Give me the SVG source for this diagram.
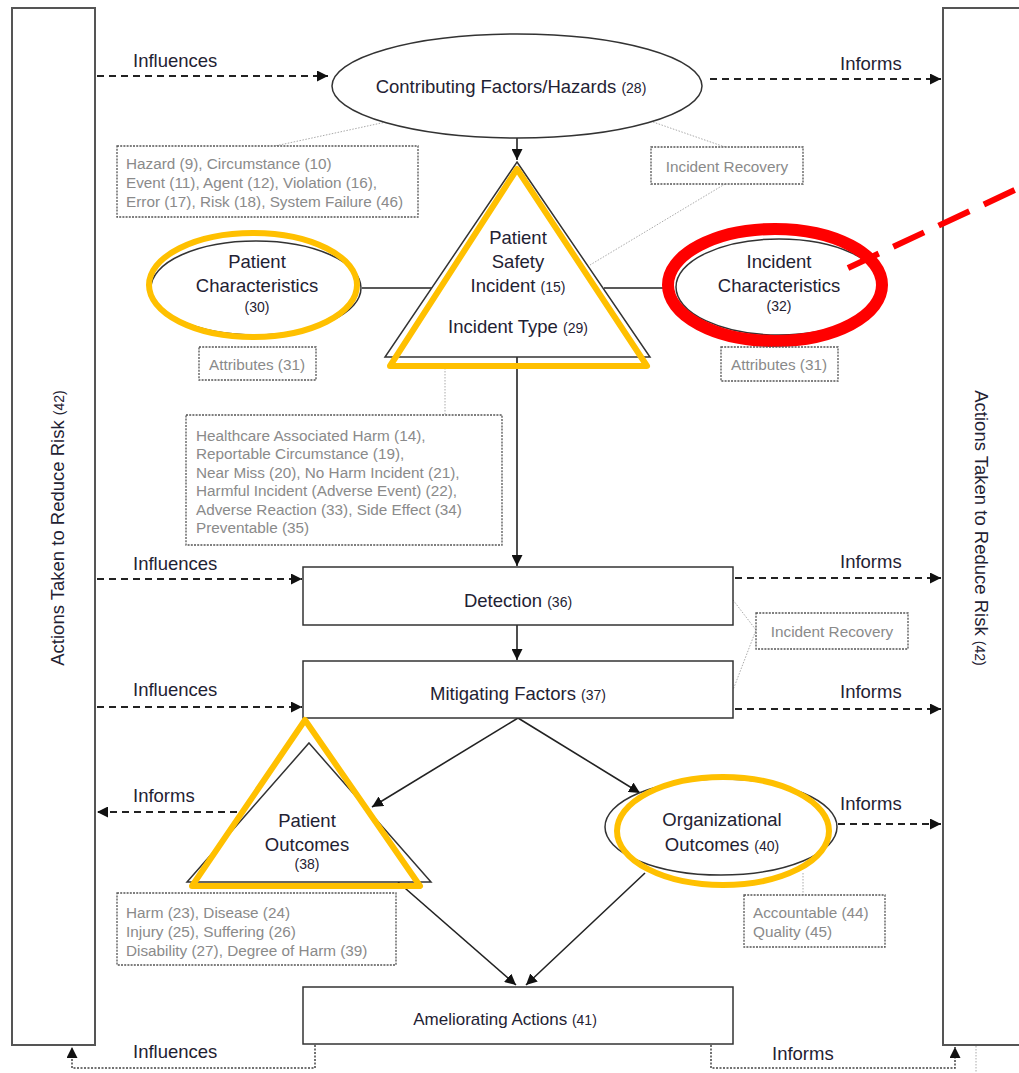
<svg xmlns="http://www.w3.org/2000/svg" width="1019" height="1073" viewBox="0 0 1019 1073">
<style>
.bg{fill:#fff}
.box{fill:#fff;stroke:#333;stroke-width:1.5}
.bar{fill:#fff;stroke:#555;stroke-width:2}
.t{font-family:"Liberation Sans",Arial,sans-serif;font-size:18.5px;fill:#1f2233}
.s{font-size:14px}
.lbl{font-family:"Liberation Sans",Arial,sans-serif;font-size:18.5px;fill:#1f2233}
.g{font-family:"Liberation Sans",Arial,sans-serif;font-size:15.3px;fill:#8a8a8a}
.gbox{fill:#fff;stroke:#555;stroke-width:1.3;stroke-dasharray:2,1.2}
.gline{fill:none;stroke:#aaa;stroke-width:1;stroke-dasharray:1.5,1.5}
.dash{fill:none;stroke:#222;stroke-width:2;stroke-dasharray:7,5}
.dot{fill:none;stroke:#444;stroke-width:1.5;stroke-dasharray:2,1.5}
.solid{fill:none;stroke:#222;stroke-width:1.6}
.yel{fill:none;stroke:#FFC000;stroke-width:6;stroke-linejoin:round}
</style>
<defs>
<marker id="ah" viewBox="0 0 10 10" refX="10" refY="5" markerWidth="11" markerHeight="11" markerUnits="userSpaceOnUse" orient="auto">
<path d="M0,0 L10,5 L0,10 z" fill="#111"/>
</marker>
</defs>
<rect class="bg" width="1019" height="1073"/>

<g id="left-bar">
<rect class="bar" x="12" y="8" width="83" height="1037"/>
<text class="t" transform="translate(64,528) rotate(-90)" text-anchor="middle">Actions Taken to Reduce Risk <tspan class="s">(42)</tspan></text>
</g>
<g id="right-bar">
<rect class="bar" x="943" y="8" width="90" height="1037"/>
<text class="t" transform="translate(975,528) rotate(90)" text-anchor="middle">Actions Taken to Reduce Risk <tspan class="s">(42)</tspan></text>
</g>

<g id="connectors">
<path class="gline" d="M386,122 L275,146"/>
<path class="gline" d="M653,122 L725,147"/>
<path class="gline" d="M725,184 L590,265"/>
<path class="gline" d="M445,368 L445,415"/>
<path class="gline" d="M733,600 L756,630 L733,690"/>
<path class="gline" d="M803,873 L803,895"/>
<path class="solid" d="M517,138 L517,160" marker-end="url(#ah)"/>
<path class="solid" d="M362,288 L432,288"/>
<path class="solid" d="M604,288 L664,288"/>
<path class="solid" d="M517,357 L517,566" marker-end="url(#ah)"/>
<path class="solid" d="M517,625 L517,660" marker-end="url(#ah)"/>
<path class="solid" d="M518,718 L372,807" marker-end="url(#ah)"/>
<path class="solid" d="M518,718 L640,793" marker-end="url(#ah)"/>
<path class="solid" d="M398,882 L516,985" marker-end="url(#ah)"/>
<path class="solid" d="M645,873 L526,985" marker-end="url(#ah)"/>
<path class="dash" d="M97,76 L328,76" marker-end="url(#ah)"/>
<path class="dash" d="M710,79 L941,79" marker-end="url(#ah)"/>
<path class="dash" d="M97,579 L302,579" marker-end="url(#ah)"/>
<path class="dash" d="M735,578 L941,578" marker-end="url(#ah)"/>
<path class="dash" d="M97,707 L302,707" marker-end="url(#ah)"/>
<path class="dash" d="M735,709 L941,709" marker-end="url(#ah)"/>
<path class="dash" d="M237,812 L97,812" marker-end="url(#ah)"/>
<path class="dash" d="M838,824 L941,824" marker-end="url(#ah)"/>
<path class="dot" d="M315,1045 L315,1068 L72,1068 L72,1047" marker-end="url(#ah)"/>
<path class="dot" d="M711,1045 L711,1068 L955,1068 L955,1047" marker-end="url(#ah)"/>
<path class="gline" d="M976,1046 L976,1073"/>
<text class="lbl" x="133" y="67">Influences</text>
<text class="lbl" x="840" y="70">Informs</text>
<text class="lbl" x="133" y="570">Influences</text>
<text class="lbl" x="840" y="568">Informs</text>
<text class="lbl" x="133" y="696">Influences</text>
<text class="lbl" x="840" y="698">Informs</text>
<text class="lbl" x="133" y="802">Informs</text>
<text class="lbl" x="840" y="810">Informs</text>
<text class="lbl" x="133" y="1058">Influences</text>
<text class="lbl" x="772" y="1060">Informs</text>
</g>

<g id="contributing-factors">
<ellipse class="box" cx="517" cy="86" rx="185" ry="52"/>
<text class="t" x="511" y="93" text-anchor="middle">Contributing Factors/Hazards <tspan class="s">(28)</tspan></text>
</g>

<g id="hazard-list">
<rect class="gbox" x="117" y="146" width="301" height="71"/>
<text class="g" x="126" y="169">Hazard (9), Circumstance (10)</text>
<text class="g" x="126" y="188">Event (11), Agent (12), Violation (16),</text>
<text class="g" x="126" y="207">Error (17), Risk (18), System Failure (46)</text>
</g>

<g id="incident-recovery-1">
<rect class="gbox" x="651" y="147" width="152" height="37"/>
<text class="g" x="727" y="172" text-anchor="middle">Incident Recovery</text>
</g>

<g id="patient-safety-incident">
<path class="box" d="M517,162 L650,357 L385,357 Z"/>
<path class="yel" d="M517,169 L647,366 L390,366 Z"/>
<text class="t" x="518" y="244" text-anchor="middle">Patient</text>
<text class="t" x="518" y="268" text-anchor="middle">Safety</text>
<text class="t" x="518" y="292" text-anchor="middle">Incident <tspan class="s">(15)</tspan></text>
<text class="t" x="518" y="333" text-anchor="middle">Incident Type <tspan class="s">(29)</tspan></text>
</g>

<g id="patient-characteristics">
<ellipse class="box" cx="256" cy="288" rx="105" ry="47"/>
<ellipse class="yel" cx="253" cy="285" rx="104" ry="52"/>
<text class="t" x="257" y="268" text-anchor="middle">Patient</text>
<text class="t" x="257" y="292" text-anchor="middle">Characteristics</text>
<text class="t s" x="257" y="312" text-anchor="middle">(30)</text>
</g>

<g id="attributes-1">
<rect class="gbox" x="199" y="347" width="117" height="33"/>
<text class="g" x="257" y="370" text-anchor="middle">Attributes (31)</text>
</g>

<g id="incident-characteristics">
<ellipse class="box" cx="779" cy="287" rx="103" ry="48"/>
<ellipse cx="775" cy="285" rx="107" ry="56" fill="none" stroke="#FF0000" stroke-width="12"/>
<text class="t" x="779" y="268" text-anchor="middle">Incident</text>
<text class="t" x="779" y="292" text-anchor="middle">Characteristics</text>
<text class="t s" x="779" y="311" text-anchor="middle">(32)</text>
</g>

<g id="attributes-2">
<rect class="gbox" x="721" y="347" width="117" height="34"/>
<text class="g" x="779" y="370" text-anchor="middle">Attributes (31)</text>
</g>

<g id="red-pointer">
<path d="M848,268 L1019,188" fill="none" stroke="#FF0000" stroke-width="6" stroke-dasharray="34,16"/>
</g>

<g id="incident-type-list">
<rect class="gbox" x="186" y="415" width="316" height="130"/>
<text class="g" x="196" y="441">Healthcare Associated Harm (14),</text>
<text class="g" x="196" y="459">Reportable Circumstance (19),</text>
<text class="g" x="196" y="478">Near Miss (20), No Harm Incident (21),</text>
<text class="g" x="196" y="496">Harmful Incident (Adverse Event) (22),</text>
<text class="g" x="196" y="515">Adverse Reaction (33), Side Effect (34)</text>
<text class="g" x="196" y="533">Preventable (35)</text>
</g>

<g id="detection">
<rect class="box" x="303" y="567" width="430" height="58"/>
<text class="t" x="518" y="607" text-anchor="middle">Detection <tspan class="s">(36)</tspan></text>
</g>

<g id="incident-recovery-2">
<rect class="gbox" x="756" y="613" width="152" height="36"/>
<text class="g" x="832" y="637" text-anchor="middle">Incident Recovery</text>
</g>

<g id="mitigating-factors">
<rect class="box" x="303" y="661" width="430" height="57"/>
<text class="t" x="518" y="700" text-anchor="middle">Mitigating Factors <tspan class="s">(37)</tspan></text>
</g>

<g id="patient-outcomes">
<path class="box" d="M309,743 L431,882 L187,882 Z"/>
<path class="yel" d="M305,720 L420,886 L192,886 Z"/>
<text class="t" x="307" y="827" text-anchor="middle">Patient</text>
<text class="t" x="307" y="851" text-anchor="middle">Outcomes</text>
<text class="t s" x="307" y="869" text-anchor="middle">(38)</text>
</g>

<g id="outcome-list">
<rect class="gbox" x="117" y="893" width="279" height="72"/>
<text class="g" x="126" y="918">Harm (23), Disease (24)</text>
<text class="g" x="126" y="937">Injury (25), Suffering (26)</text>
<text class="g" x="126" y="956">Disability (27), Degree of Harm (39)</text>
</g>

<g id="organizational-outcomes">
<ellipse class="box" cx="721" cy="827" rx="116" ry="48"/>
<ellipse class="yel" cx="723" cy="831" rx="106" ry="54" stroke-width="7"/>
<text class="t" x="722" y="826" text-anchor="middle">Organizational</text>
<text class="t" x="722" y="851" text-anchor="middle">Outcomes <tspan class="s">(40)</tspan></text>
</g>

<g id="org-list">
<rect class="gbox" x="744" y="895" width="141" height="52"/>
<text class="g" x="753" y="918">Accountable (44)</text>
<text class="g" x="753" y="937">Quality (45)</text>
</g>

<g id="ameliorating-actions">
<rect class="box" x="303" y="987" width="430" height="57"/>
<text class="t" x="505" y="1025" text-anchor="middle" style="font-size:17px">Ameliorating Actions <tspan class="s">(41)</tspan></text>
</g>
</svg>
